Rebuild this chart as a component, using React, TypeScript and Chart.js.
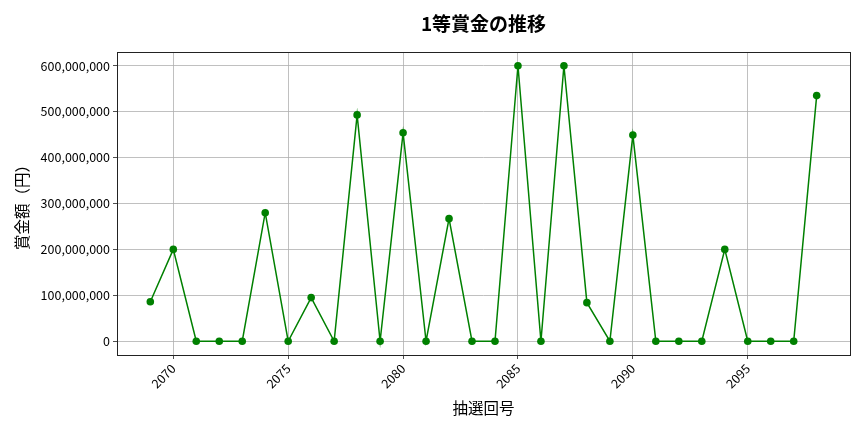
import React, { useEffect, useRef } from "react";
import { Chart, registerables, Plugin } from "chart.js";

Chart.register(...registerables);

// draw numbers (x axis)
const drawNumbers: number[] = [
  2069, 2070, 2071, 2072, 2073, 2074, 2075, 2076, 2077, 2078,
  2079, 2080, 2081, 2082, 2083, 2084, 2085, 2086, 2087, 2088,
  2089, 2090, 2091, 2092, 2093, 2094, 2095, 2096, 2097, 2098,
];

// 1st prize amounts in yen
const prizeValues: number[] = [
  86000000, 200000000, 0, 0, 0, 280000000, 0, 95000000, 0, 493000000,
  0, 454000000, 0, 267000000, 0, 0, 600000000, 0, 600000000, 84000000,
  0, 449000000, 0, 0, 0, 200000000, 0, 0, 0, 535000000,
];

const xTicks: number[] = [2070, 2075, 2080, 2085, 2090, 2095];
const yTicks: number[] = [0, 100000000, 200000000, 300000000, 400000000, 500000000, 600000000];

const FONT = "'Noto Sans CJK JP', 'Noto Sans', sans-serif";

// frame around plot area + title centred over the plot
const framePlugin: Plugin<"line"> = {
  id: "frame",
  afterDraw(chart) {
    const { ctx, chartArea } = chart;
    ctx.save();
    ctx.strokeStyle = "#222";
    ctx.lineWidth = 1;
    ctx.strokeRect(chartArea.left + 0.5, chartArea.top + 0.5, chartArea.width, chartArea.height);
    ctx.fillStyle = "#000";
    ctx.font = `bold 19px ${FONT}`;
    ctx.textAlign = "center";
    ctx.textBaseline = "middle";
    ctx.fillText("1等賞金の推移", (chartArea.left + chartArea.right) / 2, 24);
    ctx.restore();
  },
};

const App: React.FC = () => {
  const canvasRef = useRef<HTMLCanvasElement | null>(null);
  const chartRef = useRef<Chart<"line", { x: number; y: number }[], number> | null>(null);

  useEffect(() => {
    document.body.style.margin = "0";
    if (!canvasRef.current) return;
    const ctx = canvasRef.current.getContext("2d");
    if (!ctx) return;
    if (chartRef.current) chartRef.current.destroy();

    chartRef.current = new Chart(ctx, {
      type: "line",
      data: {
        datasets: [
          {
            data: drawNumbers.map((n, i) => ({ x: n, y: prizeValues[i] })),
            borderColor: "#008000",
            backgroundColor: "#008000",
            borderWidth: 1.5,
            pointRadius: 3.8,
            pointBorderWidth: 0,
            tension: 0,
          },
        ],
      },
      options: {
        animation: false,
        responsive: false,
        layout: { padding: { top: 52, right: 14, left: 0, bottom: 0 } },
        plugins: {
          legend: { display: false },
          tooltip: { enabled: false },
          title: { display: false },
        },
        scales: {
          x: {
            type: "linear",
            min: 2067.55,
            max: 2099.45,
            afterBuildTicks: (scale) => {
              scale.ticks = xTicks.map((v) => ({ value: v }));
            },
            afterFit: (scale) => {
              scale.height = 77;
            },
            grid: { color: "#b0b0b0", lineWidth: 0.8, tickLength: 4, tickColor: "#222" },
            border: { display: false },
            ticks: {
              color: "#000",
              font: { family: FONT, size: 12.5 },
              minRotation: 45,
              maxRotation: 45,
              padding: 2,
              callback: (v) => String(v),
            },
            title: {
              display: true,
              text: "抽選回号",
              color: "#000",
              font: { family: FONT, size: 15.5 },
              padding: { top: 0, bottom: 15 },
            },
          },
          y: {
            min: -30000000,
            max: 630000000,
            afterBuildTicks: (scale) => {
              scale.ticks = yTicks.map((v) => ({ value: v }));
            },
            afterFit: (scale) => {
              scale.width = 117;
            },
            grid: { color: "#b0b0b0", lineWidth: 0.8, tickLength: 4, tickColor: "#222" },
            border: { display: false },
            ticks: {
              color: "#000",
              font: { family: FONT, size: 12.5 },
              padding: 3,
              callback: (v) => Number(v).toLocaleString("en-US"),
            },
            title: {
              display: true,
              text: "賞金額（円）",
              color: "#000",
              font: { family: FONT, size: 15.5 },
              padding: { top: 13, bottom: 0 },
            },
          },
        },
      },
      plugins: [framePlugin],
    });

    return () => {
      if (chartRef.current) {
        chartRef.current.destroy();
        chartRef.current = null;
      }
    };
  }, []);

  return (
    <div style={{ width: "864px", height: "432px" }}>
      <canvas ref={canvasRef} width={864} height={432}></canvas>
    </div>
  );
};

export default App;
